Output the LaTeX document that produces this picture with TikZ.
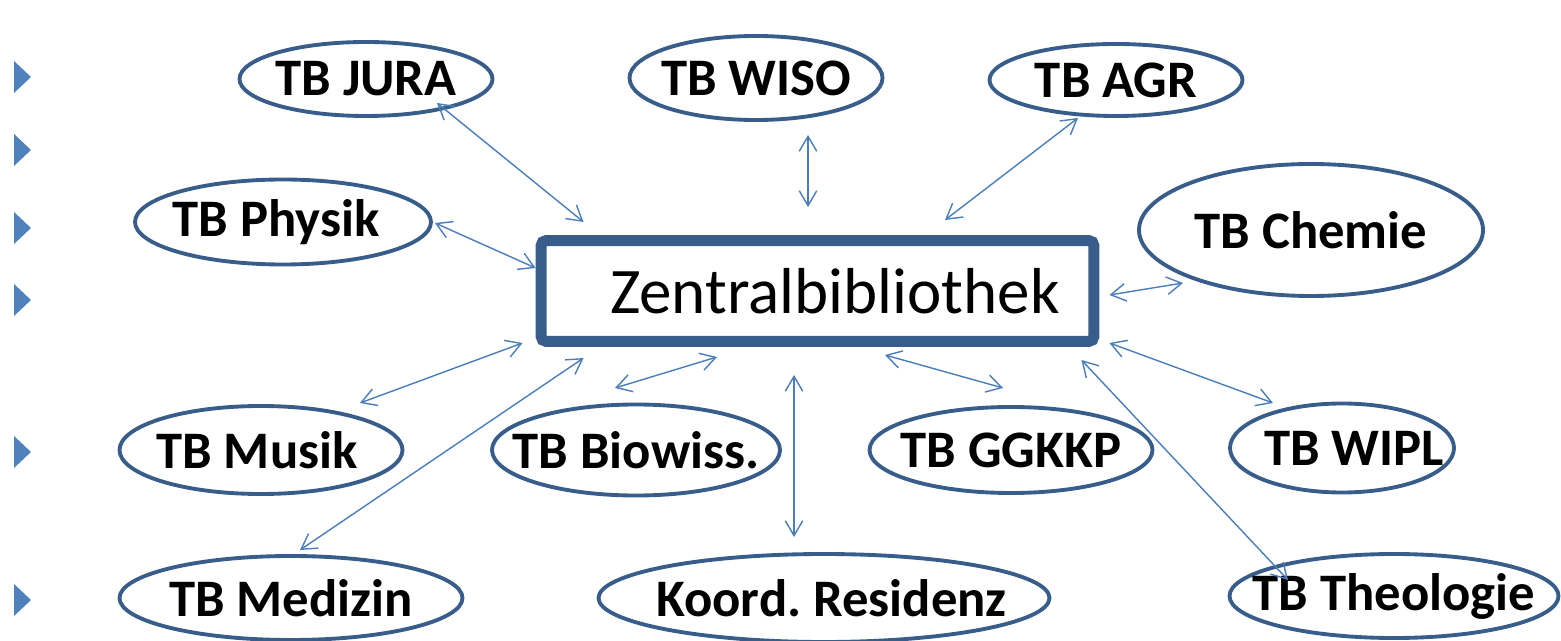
\documentclass[tikz,border=0pt]{standalone}
\usepackage{fontspec}
\setmainfont{Carlito}
\usetikzlibrary{shapes.geometric,arrows.meta,calc}
\definecolor{ellblue}{HTML}{385D8A}
\definecolor{linkblue}{HTML}{4A7EBB}
\definecolor{bulletblue}{HTML}{4F81BD}
\frenchspacing
\newcommand{\tblabel}[2][0pt]{\makebox[0pt]{\hspace*{#1}#2}}
\tikzset{
    tb-ell/.style 2 args = {draw=ellblue, line width=2.2pt, ellipse, inner sep=0pt, minimum width=#1*0.02cm, minimum height=#2*0.02cm, font=\fontsize{30}{30}\selectfont\bfseries},
    zb-box/.style = {draw=ellblue, line width=0.22cm, rectangle, rounded corners=3pt, minimum width=11.06cm, minimum height=2.02cm, font=\fontsize{37}{37}\selectfont},
    link/.style = {draw=linkblue, line width=0.8pt, {Straight Barb[length=8.5pt,width=10pt]}-{Straight Barb[length=8.5pt,width=10pt]}},
}

\begin{document}
\begin{tikzpicture}[x=0.02cm, y=-0.02cm]
\useasboundingbox (0,0) rectangle (1561,641);

\foreach \y in {77,150,228,300,452,600}
    \fill[bulletblue] (14,\y-16) -- (31,\y) -- (14,\y+16) -- cycle;

\node[zb-box] (zb) at (817.5,291) {\hspace*{0.7cm}Zentralbibliothek};

\node[tb-ell={253}{74}] (jura) at (366,79) {\tblabel{TB JURA}};
\node[tb-ell={253}{84}] (wiso) at (756,78) {\tblabel{TB WISO}};
\node[tb-ell={253}{72}] (agr) at (1116,80) {\tblabel{TB AGR}};
\node[tb-ell={296}{85}] (physik) at (283,222) {\tblabel[-0.28cm]{TB Physik}};
\node[tb-ell={344}{132}] (chemie) at (1311,230) {\tblabel{TB Chemie}};
\node[tb-ell={283}{88}] (musik) at (261,450) {\tblabel[-0.16cm]{TB Musik}};
\node[tb-ell={288}{91}] (biowiss) at (636,450) {\tblabel{TB Biowiss.}};
\node[tb-ell={283}{86}] (ggkkp) at (1011,450) {\tblabel{TB GGKKP}};
\node[tb-ell={224}{89}] (wipl) at (1342,448) {\tblabel[0.48cm]{TB WIPL}};
\node[tb-ell={343}{84}] (medizin) at (291,598) {\tblabel{TB Medizin}};
\node[tb-ell={451}{88}] (koord) at (824,598) {\tblabel[0.3cm]{Koord. Residenz}};
\node[tb-ell={329}{84}] (theologie) at (1394,596) {\tblabel{TB Theologie}};

\draw[link] ($(jura)+(71,24)$) -- ($(zb.north west)+(48,-13)$);
\draw[link] ($(wiso)+(52,57)$) -- ($(zb.north)+(-9.5,-28)$);
\draw[link] ($(agr)+(-38,38)$) -- ($(zb.north)+(127.5,-15)$);
\draw[link] ($(physik)+(152,1)$) -- ($(zb.west)+(0,-23)$);
\draw[link] ($(chemie)+(-128,53)$) -- ($(zb.east)+(10,4)$);
\draw[link] ($(musik)+(99,-47)$) -- ($(zb.south west)+(-13,-4)$);
\draw[link] ($(medizin)+(9,-48)$) -- ($(zb.south west)+(48,11)$);
\draw[link] ($(biowiss)+(-21,-62)$) -- ($(zb.south)+(-100.5,10)$);
\draw[link] ($(koord)+(-30,-61)$) -- ($(zb.south)+(-23.5,28)$);
\draw[link] ($(ggkkp)+(-8,-62)$) -- ($(zb.south)+(67.5,8)$);
\draw[link] ($(wipl)+(-69,-45)$) -- ($(zb.south east)+(10,-4)$);
\draw[link] ($(theologie)+(-106,-16)$) -- ($(zb.south east)+(-18,13)$);
\end{tikzpicture}
\end{document}
